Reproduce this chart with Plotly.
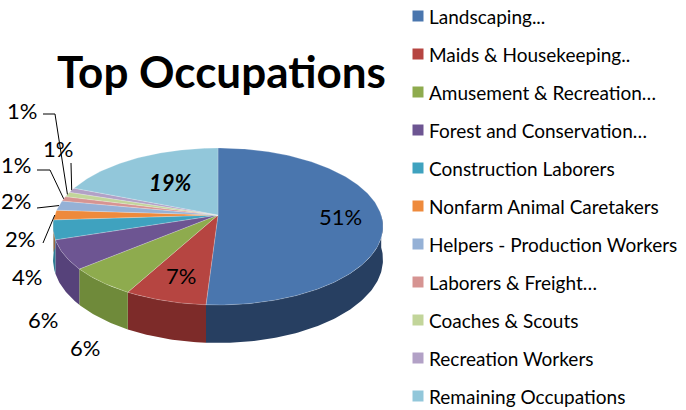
import math
import plotly.graph_objects as go

# ---- data ----
categories = ["Landscaping...", "Maids & Housekeeping..", "Amusement & Recreation…",
              "Forest and Conservation…", "Construction Laborers", "Nonfarm Animal Caretakers",
              "Helpers - Production Workers", "Laborers & Freight…", "Coaches & Scouts",
              "Recreation Workers", "Remaining Occupations"]
shares = [51, 7, 6, 6, 4, 2, 2, 1, 1, 1, 19]
title_text = "Top Occupations"

# ---- style ----
top_colors = ["#4a76ae", "#b64541", "#8eab4e", "#6d5592", "#3fa2bf", "#ee8a3c",
              "#95b1d6", "#d69492", "#c2d59a", "#b2a1c6", "#92c7da"]
side_colors = ["#273f61", "#7d2b29", "#6f8a3a", "#56427a", "#2d7c92", "#b8662a",
               "#6f87a8", "#a86e6c", "#95a673", "#887a9b", "#6e9fb0"]
FONT = "Lato"
W, H = 686, 410
CX, CY, A, B, C, D = 218.0, 215.0, 163.2, 76.8, 0.1465, 32.4

# label layout: ("in", radial fraction) or ("out", x, y, leader points)
label_layout = {
    0: ("in", 0.75), 1: ("in", 0.73), 10: ("in", 0.55),
    2: ("out", 85, 347, []), 3: ("out", 43, 319, []), 4: ("out", 27, 276, []),
    5: ("out", 20, 238, [(43, 243)]),
    6: ("out", 16, 200, [(37, 208)]),
    7: ("out", 16, 164, [(37, 170), (50, 170)]),
    8: ("out", 22, 110, [(43, 114), (55, 114)]),
    9: ("out", 58, 148, [(71, 163)]),
}


def proj(frac, r=1.0, dz=0.0):
    t = 2 * math.pi * frac
    u = r * math.sin(t)
    v = -r * math.cos(t)
    den = 1 - C * v
    return CX + A * u / den, CY + B * v / den + dz / den


def arc(a, b, r=1.0, dz=0.0, n=None):
    n = n or max(4, int((b - a) * 400))
    return [proj(a + (b - a) * k / n, r, dz) for k in range(n + 1)]


total = sum(shares)
bounds = []
acc = 0
for s in shares:
    bounds.append((acc / total, (acc + s) / total))
    acc += s

fig = go.Figure()

# side walls (front half only)
for i, (a, b) in enumerate(bounds):
    lo, hi = max(a, 0.25), min(b, 0.75)
    if hi <= lo:
        continue
    pts = arc(lo, hi) + arc(lo, hi, dz=D)[::-1]
    fig.add_trace(go.Scatter(x=[p[0] for p in pts] + [pts[0][0]],
                             y=[p[1] for p in pts] + [pts[0][1]],
                             fill="toself", fillcolor=side_colors[i], mode="lines",
                             line=dict(width=0), hoverinfo="skip", showlegend=False))

# top faces
for i, (a, b) in enumerate(bounds):
    pts = [proj(0, 0)] + arc(a, b)
    fig.add_trace(go.Scatter(x=[p[0] for p in pts] + [pts[0][0]],
                             y=[p[1] for p in pts] + [pts[0][1]],
                             fill="toself", fillcolor=top_colors[i], mode="lines",
                             line=dict(width=0.6, color="rgba(255,255,255,0.35)"),
                             name=categories[i], hoverinfo="name", showlegend=False))

annotations = []
# data labels
for i, (a, b) in enumerate(bounds):
    lay = label_layout[i]
    mid = (a + b) / 2
    txt = f"{shares[i]}%"
    fnt = dict(family=FONT, size=22, color="#000000")
    if i == 10:
        txt = f"<b><i>{shares[i]}%</i></b>"
    if lay[0] == "in":
        x, y = proj(mid, lay[1])
    else:
        x, y = lay[1], lay[2]
        if lay[3]:
            ex, ey = proj(mid)
            pts = lay[3] + [(ex, ey)]
            fig.add_trace(go.Scatter(x=[p[0] for p in pts], y=[p[1] for p in pts],
                                     mode="lines", line=dict(color="#000000", width=1),
                                     hoverinfo="skip", showlegend=False))
    annotations.append(dict(x=x, y=y, xref="x", yref="y", text=txt, showarrow=False,
                            font=fnt, xanchor="center", yanchor="middle"))

# legend (manual)
LX, LY0, LDY = 418, 16, 38
fig.add_trace(go.Scatter(x=[LX] * len(categories),
                         y=[LY0 + k * LDY for k in range(len(categories))],
                         mode="markers",
                         marker=dict(symbol="square", size=11, color=top_colors, line=dict(width=0)),
                         hoverinfo="skip", showlegend=False))
for k, name in enumerate(categories):
    annotations.append(dict(x=LX + 9, y=LY0 + k * LDY, xref="x", yref="y", text=name,
                            showarrow=False, xanchor="left", yanchor="middle",
                            font=dict(family=FONT, size=19, color="#000000")))

# title
annotations.append(dict(x=221, y=71, xref="x", yref="y", text=f"<b>{title_text}</b>",
                        showarrow=False, xanchor="center", yanchor="middle",
                        font=dict(family=FONT, size=44, color="#000000")))

fig.update_layout(
    width=W, height=H, margin=dict(l=0, r=0, t=0, b=0),
    paper_bgcolor="white", plot_bgcolor="white",
    xaxis=dict(range=[0, W], visible=False, fixedrange=True),
    yaxis=dict(range=[H, 0], visible=False, fixedrange=True),
    annotations=annotations, showlegend=False,
)
fig.write_html("out.html", config={"displayModeBar": False})
